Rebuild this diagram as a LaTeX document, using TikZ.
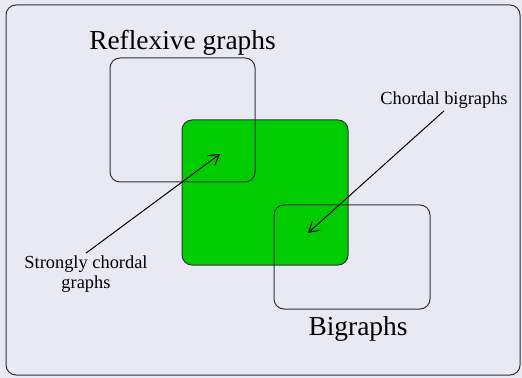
\documentclass[tikz,border=0pt]{standalone}
\usepackage{fontspec}
\setmainfont{Liberation Serif}
\usetikzlibrary{arrows.meta,positioning}

\definecolor{canvas}{RGB}{233,233,243}
\definecolor{chordgreen}{RGB}{0,204,0}

\begin{document}
\begin{tikzpicture}[
    x=0.5pt, y=-0.5pt,
    >={Straight Barb[length=5pt,width=6pt]},
    line width=0.5pt,
    setbox/.style={
        rectangle,
        rounded corners=5pt,
        draw=black!80,
        inner sep=0pt
    },
    biglabel/.style={font=\fontsize{13.7}{16}\selectfont, inner sep=1pt},
    smalllabel/.style={font=\fontsize{9.2}{10}\selectfont, align=center, inner sep=1pt},
    pointer/.style={->, draw=black}
]

% background and frame
\fill[canvas] (0,0) rectangle (522,378);
\node[setbox, minimum width=257pt, minimum height=185pt] (frame) at (263,190) {};

% the three classes
\node[setbox, fill=chordgreen, minimum width=83pt, minimum height=72.5pt] (chordal) at (265,192.5) {};
\node[setbox, minimum width=72.5pt, minimum height=62pt] (reflex) at (182.5,120) {};
\node[setbox, minimum width=78pt, minimum height=52pt] (bigraph) at (352,257) {};

\node[biglabel, above=0pt of reflex] (reflexlab) {Reflexive graphs};
\node[biglabel, below=2pt of bigraph, xshift=3pt] (bigraphlab) {Bigraphs};

\node[smalllabel] (cblab) at (444,100) {Chordal bigraphs};
\node[smalllabel] (sclab) at (86,274) {Strongly chordal\\graphs};

\coordinate (sctip) at (220,154);
\coordinate (cbtip) at (308,233);

\draw[pointer] (sclab.north) -- (sctip);
\draw[pointer] (cblab.south) -- (cbtip);

\end{tikzpicture}
\end{document}
